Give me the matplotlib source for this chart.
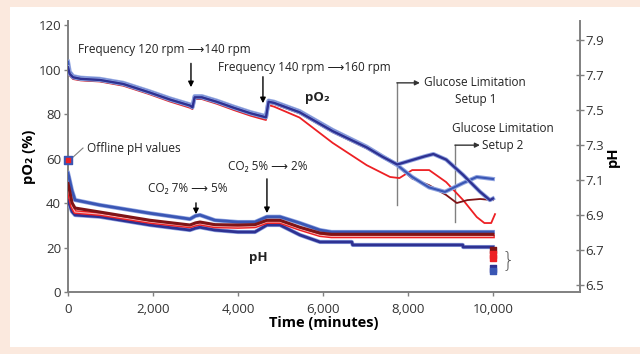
import matplotlib
matplotlib.use('Agg')
import matplotlib.pyplot as plt
import matplotlib.patheffects as pe
from matplotlib.patches import Rectangle

FONT = ['Open Sans', 'DejaVu Sans']
plt.rcParams['font.family'] = FONT

# ---------------- data ----------------
# pO2 (%) series, time in minutes
navy_po2_t = [0, 40, 120, 300, 750, 1300, 1900, 2400, 2870, 2930, 2980, 3150, 3500, 3900, 4300, 4600, 4660, 4720,
              4850, 5450, 6230, 7030, 7400, 7750, 8100, 8400, 8600, 8900, 9300, 9700, 9930, 10000]
navy_po2_v = [101, 98, 96.5, 95.8, 95.3, 93.5, 89.8, 86.5, 83.8, 83, 87.5, 87.5, 85.5, 82.8, 80.3, 78.8, 78.5, 85.5,
              85, 80.8, 72.3, 65, 60.8, 57.3, 59.3, 61, 62, 59.5, 52.6, 45, 41.3, 42]

blue_po2_t = [0, 40, 120, 300, 750, 1300, 1900, 2400, 2870, 2930, 2980, 3150, 3500, 3900, 4300, 4600, 4660, 4720,
              4850, 5450, 6230, 7030, 7400, 7750, 8100, 8500, 8870, 9300, 9620, 10000]
blue_po2_v = [103.5, 99, 97, 96.3, 95.8, 94, 90.3, 87, 84.3, 83.5, 88, 88, 86, 83.3, 80.8, 79.3, 79, 86,
              85.5, 81.3, 72.8, 65.3, 61, 57, 51.7, 47, 45, 49, 51.7, 50.8]

dred_po2_t = [0, 40, 120, 300, 750, 1300, 1900, 2400, 2870, 2930, 2980, 3150, 3500, 3900, 4300, 4600, 4660, 4720,
              4850, 5450, 6230, 7030, 7400, 7750, 8100, 8500, 8900, 9150, 9400, 9700, 10000]
dred_po2_v = [100, 97.5, 96, 95.3, 94.8, 93, 89.3, 86, 83.3, 82.5, 87, 87, 85, 82.3, 79.8, 78.3, 78, 85,
              84.5, 80.3, 71.8, 64.5, 60.5, 56.8, 51, 48, 43.6, 40, 41.3, 41.8, 41.3]

red_po2_t = [0, 40, 120, 300, 750, 1300, 1900, 2400, 2870, 2930, 2980, 3150, 3500, 3900, 4300, 4600, 4660, 4720,
             4850, 5450, 6230, 7030, 7580, 7800, 8100, 8500, 8900, 9300, 9620, 9800, 9960, 10050]
red_po2_v = [99.8, 97.2, 95.7, 95.1, 94.6, 92.7, 89, 85.6, 82.8, 82.2, 86.7, 86.7, 84.6, 81.8, 79.2, 77.6, 77.3, 84,
             83.3, 78.4, 67, 57, 51.7, 51.2, 54.8, 54.8, 49.4, 41.3, 33.7, 31, 31, 35]

# pH series
ph_t = [0, 20, 94, 165, 753, 1929, 2870, 3000, 3106, 3459, 4000, 4400, 4682, 4988, 5459, 5929, 6200, 10000]
blue_ph = [7.14, 7.12, 7.04, 6.986, 6.957, 6.91, 6.877, 6.895, 6.9, 6.87, 6.86, 6.86, 6.89, 6.89, 6.854, 6.814, 6.803, 6.803]
dred_ph = [7.08, 7.06, 6.97, 6.94, 6.917, 6.87, 6.843, 6.855, 6.86, 6.845, 6.843, 6.845, 6.87, 6.87, 6.83, 6.797, 6.79, 6.79]
red_ph = [7.05, 7.03, 6.95, 6.917, 6.905, 6.86, 6.835, 6.845, 6.85, 6.835, 6.832, 6.835, 6.86, 6.86, 6.82, 6.785, 6.778, 6.778]

navy_ph_t = [0, 20, 94, 165, 753, 1929, 2870, 3000, 3106, 3459, 4000, 4400, 4682, 4988, 5459, 5929, 6680, 6700,
             9290, 9300, 10000]
navy_ph = [6.986, 6.97, 6.92, 6.9, 6.89, 6.843, 6.814, 6.825, 6.83, 6.814, 6.803, 6.803, 6.843, 6.843, 6.786, 6.746,
           6.746, 6.729, 6.729, 6.717, 6.717]

# offline pH values
offline_start_t = [0, 0]
offline_start_ph = [7.215, 7.215]
offline_end_t = [10000, 10000, 10000, 10000, 10000]
offline_end_ph = [6.70, 6.675, 6.655, 6.595, 6.58]
offline_end_colors = ['#7f1416', '#ed2024', '#ed2024', '#2e3192', '#3a56b4']

x_ticks = [0, 2000, 4000, 6000, 8000, 10000]
x_ticklabels = ['0', '2,000', '4,000', '6,000', '8,000', '10,000']
y_ticks = [0, 20, 40, 60, 80, 100, 120]
ph_ticks = [6.5, 6.7, 6.9, 7.1, 7.3, 7.5, 7.7, 7.9]

NAVY = '#2e3192'
BLUE = '#3a56b4'
RED = '#ed2024'
DRED = '#7f1416'
GRAY = '#808080'

# ---------------- figure ----------------
fig = plt.figure(figsize=(6.4, 3.54), dpi=100)
fig.patch.set_facecolor('#fbe9de')
bg = Rectangle((10 / 640, 7 / 354), 630 / 640, 340 / 354, transform=fig.transFigure,
               facecolor='white', edgecolor='none', zorder=-10)
fig.add_artist(bg)

ax = fig.add_axes([68 / 640, (354 - 292) / 354, 512 / 640, 271 / 354])
ax.set_facecolor('none')
ax2 = ax.twinx()
ax2.set_facecolor('none')

halo_b = [pe.Stroke(linewidth=3.0, foreground='#8fa3e0'), pe.Normal()]
halo_r = [pe.Stroke(linewidth=2.8, foreground=RED), pe.Normal()]

ax.plot(red_po2_t, red_po2_v, color=RED, lw=1.3, zorder=3)
ax.plot(dred_po2_t, dred_po2_v, color=DRED, lw=1.3, zorder=3)
ax.plot(blue_po2_t, blue_po2_v, color=BLUE, lw=1.5, zorder=3, path_effects=halo_b)
ax.plot(navy_po2_t, navy_po2_v, color=NAVY, lw=1.7, zorder=4, path_effects=halo_b)

ax2.plot(ph_t, blue_ph, color=BLUE, lw=2.0, path_effects=halo_b)
ax2.plot(navy_ph_t, navy_ph, color=NAVY, lw=2.0, path_effects=halo_b)
ax2.plot(ph_t, red_ph, color='#f7b4b4', lw=0.8, path_effects=halo_r)
ax2.plot(ph_t, dred_ph, color=DRED, lw=2.2)

ax2.scatter(offline_start_t, offline_start_ph, marker='s', s=[38, 12], c=[BLUE, RED], zorder=5, clip_on=False)
ax2.scatter(offline_end_t, offline_end_ph, marker='s', s=22, c=offline_end_colors, zorder=5, clip_on=False)
ax2.text(10200, 6.645, '}', fontsize=15, color='#555555', ha='left', va='center',
         fontweight='light', family=['DejaVu Sans'])

# limits
ax.set_xlim(0, 12050)
ax.set_ylim(0, 121.8)
ax2.set_ylim(6.46, 8.009)

# spines / ticks
for a in (ax, ax2):
    a.spines['top'].set_visible(False)
    for s in ('left', 'right', 'bottom'):
        a.spines[s].set_color(GRAY)
        a.spines[s].set_linewidth(1.4)
ax.spines['right'].set_visible(False)
ax2.spines['left'].set_visible(False)
ax2.spines['bottom'].set_visible(False)

ax.set_xticks(x_ticks)
ax.set_xticklabels(x_ticklabels)
ax.set_yticks(y_ticks)
ax2.set_yticks(ph_ticks)
ax2.set_yticklabels([f'{v:.1f}' for v in ph_ticks])
ax.tick_params(axis='both', colors=GRAY, labelcolor='#333333', labelsize=9.5, length=3, width=1, pad=2)
ax.tick_params(axis='x', pad=5)
ax2.tick_params(axis='y', colors=GRAY, labelcolor='#333333', labelsize=9.5, direction='inout', length=6,
                width=1, pad=1)

ax.set_ylabel('pO\u2082 (%)', fontsize=10.5, fontweight='bold', labelpad=2)
ax2.set_ylabel('pH', fontsize=10.5, fontweight='bold', labelpad=1)
ax.set_xlabel('Time (minutes)', fontsize=10.5, fontweight='bold', labelpad=0)

# annotations
fs = 8.5
ax.text(235, 108.8, 'Frequency 120 rpm \u27f6140 rpm', fontsize=fs, va='center', color='#222222')
ax.annotate('', xy=(2894, 90.8), xytext=(2894, 104), arrowprops=dict(arrowstyle='-|>', color='black',
                                                                     lw=1, mutation_scale=8))
ax.text(3529, 101, 'Frequency 140 rpm \u27f6160 rpm', fontsize=fs, va='center', color='#222222')
ax.annotate('', xy=(4588, 83.6), xytext=(4588, 98), arrowprops=dict(arrowstyle='-|>', color='black',
                                                                    lw=1, mutation_scale=8))
ax.text(5576, 87.2, 'pO\u2082', fontsize=9.5, fontweight='bold', va='center', color='#222222')

ax.plot([94, 353], [60.2, 64.7], color=GRAY, lw=0.8)
ax.text(447, 64.7, 'Offline pH values', fontsize=fs, va='center', color='#222222')

ax.text(1882, 46.7, 'CO\u2082 7% \u27f6 5%', fontsize=fs, va='center', color='#222222')
ax.annotate('', xy=(3012, 33.7), xytext=(3012, 41.3), arrowprops=dict(arrowstyle='-|>', color='black',
                                                                     lw=1, mutation_scale=8))
ax.text(3765, 56.2, 'CO\u2082 5% \u27f6 2%', fontsize=fs, va='center', color='#222222')
ax.annotate('', xy=(4682, 34.2), xytext=(4682, 52.1), arrowprops=dict(arrowstyle='-|>', color='black',
                                                                     lw=1, mutation_scale=8))
ax.text(4470, 15.3, 'pH', fontsize=9.5, fontweight='bold', va='center', ha='center', color='#222222')

# glucose limitation markers
ax.plot([7740, 7740], [39.1, 94], color=GRAY, lw=1)
ax.annotate('', xy=(8282, 94), xytext=(7740, 94), arrowprops=dict(arrowstyle='-|>', color='#333333',
                                                                  lw=1, mutation_scale=7, shrinkA=0, shrinkB=0))
ax.text(8376, 94, 'Glucose Limitation', fontsize=fs, va='center', color='#222222')
ax.text(9600, 86.7, 'Setup 1', fontsize=fs, va='center', ha='center', color='#222222')

ax.plot([9106, 9106], [31.5, 66], color=GRAY, lw=1)
ax.annotate('', xy=(9694, 66), xytext=(9106, 66), arrowprops=dict(arrowstyle='-|>', color='#333333',
                                                                  lw=1, mutation_scale=7, shrinkA=0, shrinkB=0))
ax.text(9741, 66, 'Setup 2', fontsize=fs, va='center', color='#222222')
ax.text(10235, 73.3, 'Glucose Limitation', fontsize=fs, va='center', ha='center', color='#222222')

fig.savefig('out.png', dpi=100, facecolor=fig.get_facecolor())
